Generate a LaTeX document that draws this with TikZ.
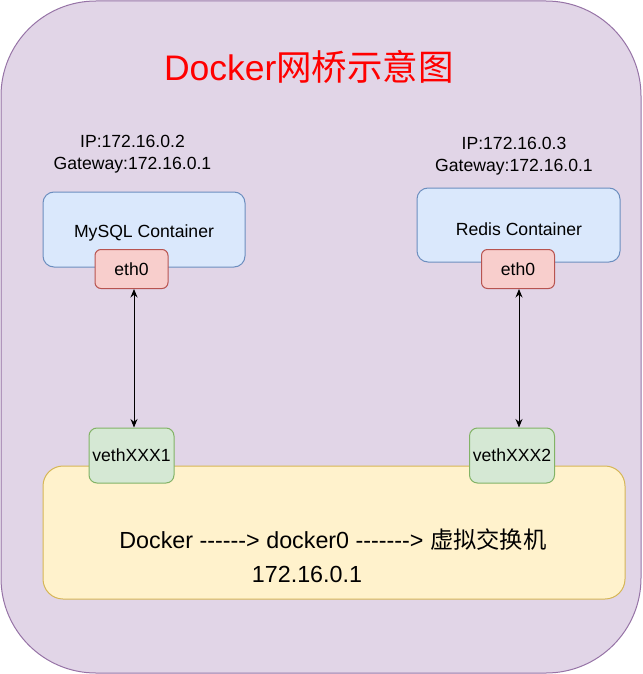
\documentclass[tikz,border=0pt]{standalone}
\usepackage{fontspec}
\setmainfont{Liberation Sans}[Ligatures=TeXOff]
\newfontfamily\cjk{Noto Sans CJK SC}
\usetikzlibrary{arrows.meta,calc}
\definecolor{purpfill}{HTML}{E1D5E7}
\definecolor{purpline}{HTML}{9673A6}
\definecolor{bluefill}{HTML}{DAE8FC}
\definecolor{blueline}{HTML}{6C8EBF}
\definecolor{redfill}{HTML}{F8CECC}
\definecolor{redline}{HTML}{B85450}
\definecolor{greenfill}{HTML}{D5E8D4}
\definecolor{greenline}{HTML}{82B366}
\definecolor{yelfill}{HTML}{FFF2CC}
\definecolor{yelline}{HTML}{D6B656}
\definecolor{titlered}{HTML}{FF0000}
\begin{document}
\begin{tikzpicture}[x=1pt,y=-1pt,
  base/.style={inner sep=0pt, line width=1pt},
  outerbox/.style={base, draw=purpline, fill=purpfill, rounded corners=95pt},
  hostbox/.style={base, draw=yelline, fill=yelfill, rounded corners=20pt},
  contbox/.style={base, draw=blueline, fill=bluefill, rounded corners=11pt,
    font=\fontsize{17.6}{21}\selectfont},
  ethbox/.style={base, draw=redline, fill=redfill, rounded corners=6pt,
    minimum width=73pt, minimum height=39pt, font=\fontsize{17.6}{21}\selectfont},
  vethbox/.style={base, draw=greenline, fill=greenfill, rounded corners=8pt,
    minimum width=85pt, minimum height=55pt, font=\fontsize{17.6}{21}\selectfont},
  iptext/.style={inner sep=0pt, align=center, font=\fontsize{17.6}{22}\selectfont},
  bigtext/.style={inner sep=0pt, font=\fontsize{23.3}{28}\selectfont},
  link/.style={line width=1pt, {Stealth[length=8.5pt,width=7pt]}-{Stealth[length=8.5pt,width=7pt]}}
]
\useasboundingbox (0,0) rectangle (642,674);
\node[outerbox, minimum width=640pt, minimum height=672pt] (outer) at (321,337) {};

\node[inner sep=0pt, text=titlered, font=\fontsize{35.5}{40}\selectfont] (title) at (309,67) {Docker{\cjk 网桥示意图}};

\node[iptext] (ipleft) at (132.5,154) {IP:172.16.0.2\\Gateway:172.16.0.1};
\node[iptext] (ipright) at (514,156) {IP:172.16.0.3\\Gateway:172.16.0.1};

\node[contbox, minimum width=202pt, minimum height=75pt] (mysql) at (144,229.5) {};
\node[inner sep=0pt, font=\fontsize{17.6}{21}\selectfont] (mysqllabel) at (144,233) {MySQL Container};
\node[contbox, minimum width=203pt, minimum height=74pt] (redis) at (518.5,225) {};
\node[inner sep=0pt, font=\fontsize{17.6}{21}\selectfont] (redislabel) at (519,229.5) {Redis Container};

\node[ethbox] (etha) at (131.5,269) {eth0};
\node[ethbox] (ethb) at (518,269) {eth0};

\node[hostbox, minimum width=582pt, minimum height=133pt] (host) at (334,532.5) {};
\node[bigtext] (hostline1) at (333,539.5) {Docker ------> docker0 -------> {\cjk 虚拟交换机}};
\node[bigtext] (hostline2) at (307,574) {172.16.0.1};

\node[vethbox] (vetha) at (131.5,455.5) {vethXXX1};
\node[vethbox] (vethb) at (512,455.5) {vethXXX2};

\draw[link] ([xshift=2.5pt]etha.south) -- ([xshift=2.5pt]etha.south |- vetha.north);
\draw[link] ([xshift=1pt]ethb.south) -- ([xshift=1pt]ethb.south |- vethb.north);
\end{tikzpicture}
\end{document}
